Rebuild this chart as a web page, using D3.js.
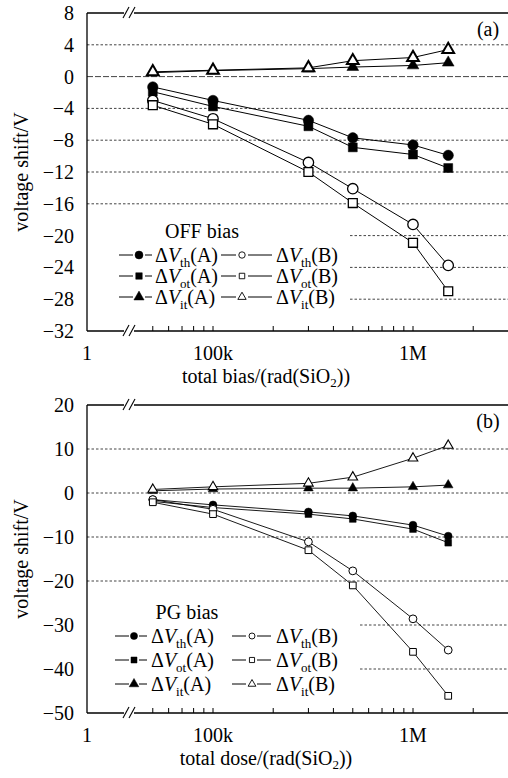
<!DOCTYPE html>
<html lang="en">
<head>
<meta charset="UTF-8">
<title>voltage shift vs total dose</title>
<script src="https://d3js.org/d3.v7.min.js"></script>
<style>
  body { margin: 0; background: #fff; }
  svg { font-family: "Liberation Serif", "DejaVu Serif", serif; }
  svg text { fill: #000; }
</style>
</head>
<body>
<svg width="508" height="778" font-family="Liberation Serif, DejaVu Serif, serif"></svg>
<script>
// doses in rad(SiO2)
const doses = [5e4, 1e5, 3e5, 5e5, 1e6, 1.5e6];

// (a) OFF bias
const vthA_off = [-1.3, -3.0, -5.5, -7.7, -8.6, -9.9];
const votA_off = [-1.9, -3.75, -6.25, -8.9, -9.8, -11.5];
const vitA_off = [0.5, 0.75, 1.0, 1.2, 1.4, 1.75];
const vthB_off = [-3.0, -5.3, -10.8, -14.1, -18.6, -23.75];
const votB_off = [-3.6, -6.0, -12.0, -15.9, -20.9, -27.0];
const vitB_off = [0.6, 0.8, 1.1, 2.0, 2.4, 3.4];

// (b) PG bias
const vthA_pg = [-1.5, -2.7, -4.3, -5.2, -7.3, -9.8];
const votA_pg = [-1.9, -3.3, -4.8, -5.9, -8.2, -11.3];
const vitA_pg = [0.5, 0.9, 1.1, 1.1, 1.4, 1.8];
const vthB_pg = [-1.5, -3.7, -11.1, -17.7, -28.6, -35.7];
const votB_pg = [-2.1, -4.8, -13.0, -21.0, -36.1, -46.1];
const vitB_pg = [0.8, 1.4, 2.2, 3.6, 7.9, 10.8];

const yTicksA = [8, 4, 0, -4, -8, -12, -16, -20, -24, -28, -32];
const yTicksB = [20, 10, 0, -10, -20, -30, -40, -50];
const xTickLabels = [{ v: 1e5, t: "100k" }, { v: 1e6, t: "1M" }];

const FONT = "Liberation Serif, DejaVu Serif, serif";
const FS = 20;
const svg = d3.select("svg");
const left = 87, right = 508;

// log axis, decade = 200px
const x = d3.scaleLog().domain([1e5, 1e6]).range([213, 413]);
const minorTicks = [5e4, 6e4, 7e4, 8e4, 9e4, 1e5, 2e5, 3e5, 4e5, 5e5, 6e5, 7e5, 8e5, 9e5, 1e6, 2e6, 3e6]
  .filter(v => x(v) <= right);

function minus(v) { return v < 0 ? "\u2212" + Math.abs(v) : String(v); }

function txt(g) {
  return g.append("text").attr("font-family", FONT).attr("fill", "#000");
}

function panel(opt) {
  const y = d3.scaleLinear().domain(opt.yDomain).range(opt.yRange);
  const g = svg.append("g");
  const top = y(opt.yDomain[1]), bottom = y(opt.yDomain[0]);

  // grid
  opt.grid.forEach(d => {
    g.append("line")
      .attr("x1", d.from || left).attr("x2", right)
      .attr("y1", y(d.v)).attr("y2", y(d.v))
      .attr("stroke", "#444").attr("stroke-width", 1)
      .attr("stroke-dasharray", d.dash || "2.5,2");
  });

  // frame: left, top, bottom
  g.append("line").attr("x1", left).attr("x2", left).attr("y1", top).attr("y2", bottom)
    .attr("stroke", "#000").attr("stroke-width", 1.3);
  [top, bottom].forEach(yy => {
    g.append("line").attr("x1", left).attr("x2", right).attr("y1", yy).attr("y2", yy)
      .attr("stroke", "#000").attr("stroke-width", 1.3);
    // break marks
    g.append("rect").attr("x", 124).attr("y", yy - 2).attr("width", 10).attr("height", 4).attr("fill", "#fff");
    [123, 129].forEach(bx => {
      g.append("line").attr("x1", bx).attr("y1", yy + 5).attr("x2", bx + 6).attr("y2", yy - 6)
        .attr("stroke", "#000").attr("stroke-width", 1.1);
    });
  });

  // x minor ticks (inside)
  minorTicks.forEach(v => {
    g.append("line").attr("x1", x(v)).attr("x2", x(v)).attr("y1", bottom).attr("y2", bottom - 5)
      .attr("stroke", "#000").attr("stroke-width", 1);
  });

  // x labels
  txt(g).attr("x", left).attr("y", bottom + 29).attr("text-anchor", "middle")
    .attr("font-size", FS).text("1");
  xTickLabels.forEach(d => {
    txt(g).attr("x", x(d.v)).attr("y", bottom + 29).attr("text-anchor", "middle")
      .attr("font-size", FS).text(d.t);
  });

  // y labels
  opt.yTicks.forEach(v => {
    txt(g).attr("x", 74).attr("y", y(v)).attr("dy", "0.35em").attr("text-anchor", "end")
      .attr("font-size", FS).text(minus(v));
  });

  // axis titles
  txt(g).attr("transform", `translate(28,${(top + bottom) / 2}) rotate(-90)`)
    .attr("text-anchor", "middle").attr("font-size", FS).text("voltage shift/V");
  const xt = txt(g).attr("x", 266).attr("y", bottom + 52).attr("text-anchor", "middle")
    .attr("font-size", FS);
  xt.append("tspan").text(opt.xTitle + "/(rad(SiO");
  xt.append("tspan").attr("font-size", 13).attr("dy", 4).text("2");
  xt.append("tspan").attr("dy", -4).text("))");

  txt(g).attr("x", 488).attr("y", top + 23).attr("text-anchor", "middle")
    .attr("font-size", FS).text(opt.tag);

  // series
  const line = d3.line().x(d => x(d[0])).y(d => y(d[1]));
  opt.series.forEach(s => {
    const pts = doses.map((d, i) => [d, s.values[i]]);
    g.append("path").attr("d", line(pts)).attr("fill", "none")
      .attr("stroke", "#000").attr("stroke-width", opt.lw);
  });
  opt.series.forEach(s => {
    const pts = doses.map((d, i) => [d, s.values[i]]);
    g.selectAll(null).data(pts).enter().append("path")
      .attr("transform", d => `translate(${x(d[0])},${y(d[1])})`)
      .attr("d", d3.symbol().type(s.shape).size(opt.size[s.kind]))
      .attr("fill", s.filled ? "#000" : "#fff")
      .attr("stroke", "#000")
      .attr("stroke-width", s.filled ? 0.5 : (s.kind === "tri" ? opt.triStroke : opt.openStroke));
  });

  // legend
  const L = opt.legend;
  txt(g).attr("x", L.titleX).attr("y", L.titleY).attr("text-anchor", "middle")
    .attr("font-size", FS).text(opt.legendTitle);
  opt.series.forEach(s => {
    const c = L.cols[s.col];
    const yy = L.rows[s.row];
    g.append("line").attr("x1", c.d1[0]).attr("x2", c.d1[1]).attr("y1", yy).attr("y2", yy)
      .attr("stroke", "#000").attr("stroke-width", 1);
    g.append("line").attr("x1", c.d2[0]).attr("x2", c.d2[1]).attr("y1", yy).attr("y2", yy)
      .attr("stroke", "#000").attr("stroke-width", 1);
    g.append("path").attr("transform", `translate(${c.m},${yy})`)
      .attr("d", d3.symbol().type(s.shape).size(s.filled ? L.sizeFilled[s.kind] : L.sizeOpen[s.kind]))
      .attr("fill", s.filled ? "#000" : "#fff").attr("stroke", "#000")
      .attr("stroke-width", s.filled ? 0.5 : 0.9);
    const t = txt(g).attr("x", c.t).attr("y", yy).attr("dy", "0.35em").attr("font-size", FS);
    t.append("tspan").text("\u0394");
    t.append("tspan").attr("font-style", "italic").text("V");
    t.append("tspan").attr("font-size", 13).attr("dy", 5).text(s.sub);
    t.append("tspan").attr("dy", -5).text(s.dev);
  });
}

function makeSeries(vth, vot, vit, vthB, votB, vitB) {
  return [
    { values: vth, shape: d3.symbolCircle, kind: "circ", filled: true, sub: "th", dev: "(A)", col: 0, row: 0 },
    { values: vot, shape: d3.symbolSquare, kind: "sq", filled: true, sub: "ot", dev: "(A)", col: 0, row: 1 },
    { values: vit, shape: d3.symbolTriangle, kind: "tri", filled: true, sub: "it", dev: "(A)", col: 0, row: 2 },
    { values: vthB, shape: d3.symbolCircle, kind: "circ", filled: false, sub: "th", dev: "(B)", col: 1, row: 0 },
    { values: votB, shape: d3.symbolSquare, kind: "sq", filled: false, sub: "ot", dev: "(B)", col: 1, row: 1 },
    { values: vitB, shape: d3.symbolTriangle, kind: "tri", filled: false, sub: "it", dev: "(B)", col: 1, row: 2 }
  ];
}

panel({
  yDomain: [-32, 8], yRange: [331, 13], yTicks: yTicksA, tag: "(a)", xTitle: "total bias",
  grid: [{ v: 4 }, { v: 0, dash: "6,2" }, { v: -4 }, { v: -8 }, { v: -12 }, { v: -16 },
         { v: -20, from: 350 }, { v: -24, from: 350 }, { v: -28, from: 350 }],
  lw: 1, size: { circ: 85, sq: 80, tri: 60 }, openStroke: 1.3, triStroke: 2,
  series: makeSeries(vthA_off, votA_off, vitA_off, vthB_off, votB_off, vitB_off),
  legendTitle: "OFF bias",
  legend: {
    titleX: 202, titleY: 238, rows: [255, 276, 297],
    cols: [{ d1: [119, 133], m: 139, d2: [145, 152], t: 155 },
           { d1: [221, 236], m: 242, d2: [248, 272], t: 276 }],
    sizeFilled: { circ: 50, sq: 42, tri: 45 }, sizeOpen: { circ: 32, sq: 30, tri: 30 }
  }
});

panel({
  yDomain: [-50, 20], yRange: [713, 405], yTicks: yTicksB, tag: "(b)", xTitle: "total dose",
  grid: [{ v: 10 }, { v: 0 }, { v: -10 }, { v: -20 }, { v: -30, from: 360 }, { v: -40, from: 360 }],
  lw: 0.9, size: { circ: 48, sq: 45, tri: 40 }, openStroke: 1, triStroke: 1.1,
  series: makeSeries(vthA_pg, votA_pg, vitA_pg, vthB_pg, votB_pg, vitB_pg),
  legendTitle: "PG bias",
  legend: {
    titleX: 187, titleY: 619, rows: [636, 660, 684],
    cols: [{ d1: [115, 129], m: 134, d2: [139, 147], t: 151 },
           { d1: [232, 246], m: 252, d2: [257, 271], t: 276 }],
    sizeFilled: { circ: 40, sq: 36, tri: 40 }, sizeOpen: { circ: 28, sq: 26, tri: 26 }
  }
});
</script>
</body>
</html>
